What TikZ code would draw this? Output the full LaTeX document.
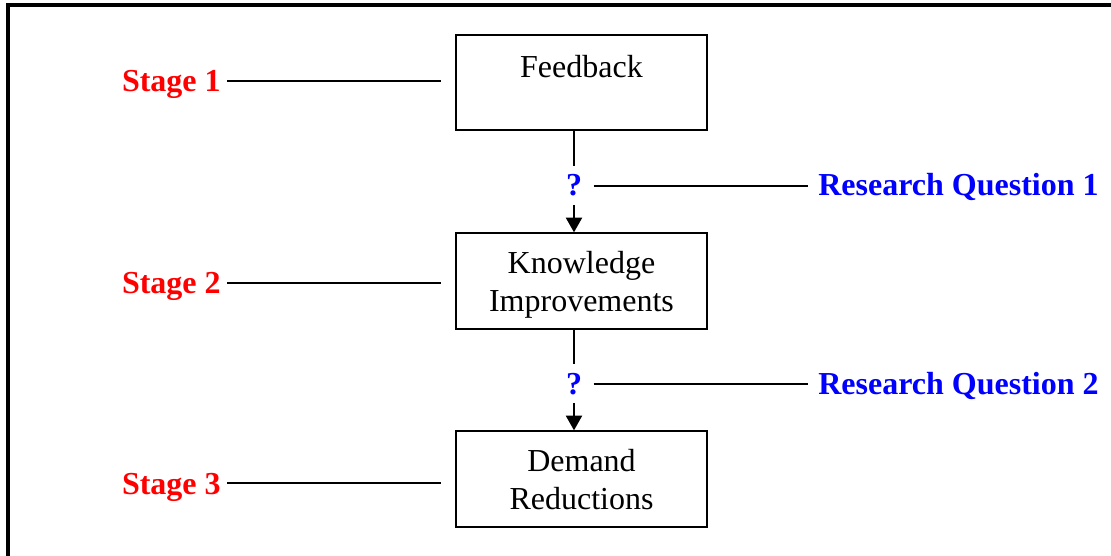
\documentclass[tikz,border=0pt]{standalone}
\usepackage{fontspec}
\setmainfont{Liberation Serif}
\usetikzlibrary{arrows.meta}
\definecolor{stagered}{RGB}{255,0,0}
\definecolor{rqblue}{RGB}{0,0,255}

\tikzset{
  etape/.style={font=\fontsize{24}{28.5}\selectfont\bfseries, text=stagered, anchor=base east, inner xsep=4pt},
  boite/.style={draw, line width=1.5pt, minimum width=188.25pt, minimum height=71.5pt, align=center, text depth=0pt, font=\fontsize{24}{28.5}\selectfont},
  interro/.style={font=\fontsize{24}{28.5}\selectfont\bfseries, text=rqblue, anchor=base, inner ysep=6pt, inner xsep=8pt},
  question/.style={font=\fontsize{24}{28.5}\selectfont\bfseries, text=rqblue, anchor=base west, inner xsep=7pt},
}

\begin{document}
\begin{tikzpicture}[x=0.75pt,y=-0.75pt, line width=1.5pt]
\useasboundingbox (0,0) rectangle (1111,556);
\draw [line width=2.3pt] (8,556) -- (8,5) -- (1111,5);

% les trois boites
\node[boite] (fb) at (581.5,82.5) {Feedback\\[-4pt]\strut};
\node[boite] (ki) at (581.5,281) {Knowledge\\Improvements};
\node[boite] (dr) at (581.5,479) {Demand\\Reductions};

% fleches et points d'interrogation
\node[interro] (q1) at (574,196) {?};
\node[interro] (q2) at (574,394) {?};
\draw (q1 |- fb.south) -- (q1);
\draw [-{Triangle[width=12pt,length=11pt]}] (q1) -- (q1 |- ki.north);
\draw (q2 |- ki.south) -- (q2);
\draw [-{Triangle[width=12pt,length=11pt]}] (q2) -- (q2 |- dr.north);

% questions de recherche
\node[question] (rq1) at (808,196) {Research Question 1};
\node[question] (rq2) at (808,394) {Research Question 2};
\draw (q1) -- (q1 -| rq1.west);
\draw (q2) -- (q2 -| rq2.west);

% etapes
\node[etape] (s1) at (227,92) {Stage 1};
\node[etape] (s2) at (227,294) {Stage 2};
\node[etape] (s3) at (227,494) {Stage 3};
\coordinate (e1) at (441,81);
\coordinate (e2) at (441,283);
\coordinate (e3) at (441,483);
\draw (s1.east |- e1) -- (e1);
\draw (s2.east |- e2) -- (e2);
\draw (s3.east |- e3) -- (e3);

\end{tikzpicture}
\end{document}
